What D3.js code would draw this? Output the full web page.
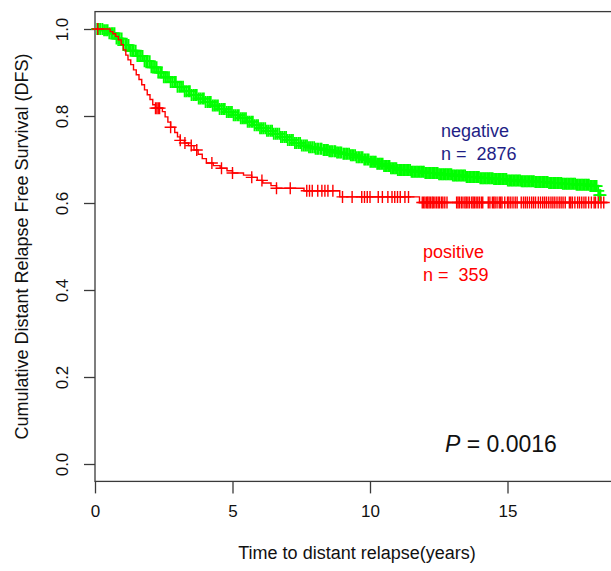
<!DOCTYPE html>
<html><head><meta charset="utf-8">
<script src="https://cdn.jsdelivr.net/npm/d3@7"></script>
<style>
body{margin:0;background:#fff}
svg{display:block}
text{font-family:"Liberation Sans",Arial,Helvetica,sans-serif}
</style>
</head><body>
<svg id="c" width="611" height="571"></svg>
<script>
// ---- data ----
const xTicks = [0, 5, 10, 15];
const yTicks = [0, 0.2, 0.4, 0.6, 0.8, 1.0];

const groupNames = ["negative", "positive"];
const groupN = [2876, 359];
const pValue = "0.0016";

// negative group (green) KM step curve
const negTime = [0,0.3,0.5,0.75,1.0,1.25,1.5,1.75,2.0,2.25,2.5,2.75,3.0,3.25,3.5,3.75,4.0,4.25,4.5,4.75,5.0,5.25,5.5,5.75,6.0,6.25,6.5,6.75,7.0,7.25,7.5,7.75,8.0,8.25,8.5,8.75,9.0,9.25,9.5,9.75,10.0,10.25,10.5,10.75,11.0,11.5,12.0,12.5,13.0,13.5,14.0,14.5,15.0,15.5,16.0,16.5,17.0,17.5,18.0,18.25,18.32,18.42];
const negSurv = [1.0,0.997,0.99,0.978,0.963,0.95,0.938,0.926,0.912,0.9,0.889,0.878,0.867,0.857,0.848,0.84,0.832,0.824,0.816,0.809,0.802,0.795,0.787,0.779,0.772,0.766,0.759,0.752,0.745,0.738,0.732,0.728,0.725,0.722,0.719,0.716,0.713,0.71,0.705,0.7,0.695,0.69,0.685,0.68,0.676,0.672,0.669,0.666,0.663,0.66,0.657,0.655,0.652,0.65,0.648,0.646,0.644,0.642,0.639,0.628,0.618,0.618];
const negCensor = [
0.08,0.14,0.2,0.27,0.33,0.4,0.46,0.52,0.59,0.65,0.71,0.78,0.84,0.9,0.97,1.03,1.1,1.16,1.22,1.29,
1.35,1.41,1.48,1.54,1.6,1.67,1.73,1.8,1.86,1.92,1.99,2.05,2.11,2.18,2.24,2.3,2.37,2.43,2.5,2.56,
2.62,2.69,2.75,2.81,2.88,2.94,3.0,3.07,3.13,3.2,3.26,3.32,3.39,3.45,3.51,3.58,3.64,3.7,3.77,3.83,
3.9,3.96,4.02,4.09,4.15,4.21,4.28,4.34,4.4,4.47,4.53,4.6,4.66,4.72,4.79,4.85,4.91,4.98,5.04,5.1,
5.17,5.23,5.3,5.36,5.42,5.49,5.55,5.61,5.68,5.74,5.8,5.87,5.93,6.0,6.06,6.12,6.19,6.25,6.31,6.38,
6.44,6.5,6.57,6.63,6.7,6.76,6.82,6.89,6.95,7.01,7.08,7.14,7.2,7.27,7.33,7.4,7.46,7.52,7.59,7.65,
7.71,7.78,7.84,7.9,7.97,
8.02,8.08,8.13,8.2,8.24,8.31,8.36,8.41,8.47,8.52,8.58,8.63,8.7,8.74,8.8,8.85,8.91,8.96,9.03,9.07,
9.13,9.18,9.24,9.3,9.35,9.4,9.46,9.51,9.57,9.62,9.68,9.73,9.79,9.84,9.9,9.95,10.01,10.06,10.11,10.16,
10.21,10.26,10.31,10.36,10.41,10.46,10.51,10.56,10.61,10.66,10.71,10.76,10.81,10.86,10.91,10.96,11.01,11.06,11.11,11.16,
11.21,11.26,11.31,11.36,11.41,11.46,11.51,11.56,11.61,11.66,11.71,11.76,11.81,11.86,11.91,11.96,12.01,12.06,12.11,12.16,
12.21,12.26,12.31,12.36,12.41,12.46,12.51,12.56,12.61,12.66,12.71,12.76,12.81,12.86,12.91,12.96,13.01,13.06,13.11,13.16,
13.21,13.26,13.31,13.36,13.41,13.46,13.51,13.56,13.61,13.66,13.71,13.76,13.81,13.86,13.91,13.96,14.01,14.06,14.11,14.16,
14.21,14.26,14.31,14.36,14.41,14.46,14.51,14.56,14.61,14.66,14.71,14.76,14.81,14.86,14.91,14.96,15.01,15.06,15.11,15.16,
15.21,15.26,15.31,15.36,15.41,15.46,15.51,15.56,15.61,15.66,15.71,15.76,15.81,15.86,15.91,15.96,16.01,16.06,16.11,16.16,
16.21,16.26,16.31,16.36,16.41,16.46,16.51,16.56,16.61,16.66,16.71,16.76,16.81,16.86,16.91,16.96,17.01,17.06,17.11,17.16,
17.21,17.26,17.31,17.36,17.41,17.46,17.51,17.56,17.61,17.66,17.71,17.76,17.81,17.86,17.91,17.96,18.01,18.06,18.11,18.16,
18.2,18.24,18.3,18.34,18.38];

// positive group (red) KM step curve
const posTime = [0,0.55,0.65,0.75,0.85,0.95,1.03,1.12,1.2,1.3,1.4,1.5,1.6,1.7,1.8,1.9,2.0,2.1,2.2,2.45,2.55,2.65,2.75,2.9,3.0,3.1,3.25,3.4,3.6,3.75,3.9,4.05,4.3,4.55,4.8,5.0,5.4,5.7,5.9,6.1,6.4,6.6,7.6,8.9,11.8,18.65];
const posSurv = [1.0,0.994,0.989,0.983,0.975,0.964,0.952,0.94,0.929,0.918,0.906,0.895,0.884,0.872,0.86,0.849,0.838,0.826,0.818,0.81,0.798,0.786,0.774,0.762,0.752,0.744,0.738,0.732,0.722,0.712,0.702,0.692,0.686,0.68,0.674,0.669,0.664,0.659,0.652,0.646,0.64,0.634,0.628,0.614,0.601,0.601];
const posCensor = [
0.1,2.2,2.25,2.3,2.35,2.75,3.1,3.27,3.5,3.7,4.25,4.6,5.0,5.7,6.07,6.6,7.1,7.7,7.8,7.9,
8.1,8.25,8.36,8.47,8.65,9.0,9.35,9.7,9.8,9.9,10.0,10.3,10.45,10.65,10.8,10.9,11.0,11.1,11.27,11.4,
11.9,11.95,12.0,12.06,12.1,12.15,12.2,12.26,12.3,12.36,12.42,12.48,12.53,12.6,12.65,12.72,12.8,
13.15,13.2,13.25,13.32,13.38,13.45,13.5,13.56,13.62,13.7,13.75,13.8,13.86,13.92,13.98,14.05,14.1,
14.3,14.36,14.45,14.5,14.55,14.62,14.7,14.75,14.8,14.9,15.0,15.05,15.12,15.2,15.28,15.35,
15.5,15.58,15.65,15.72,15.8,15.88,15.95,16.02,
16.12,16.2,16.28,16.35,16.42,16.5,16.58,16.65,16.72,16.8,16.88,16.95,17.02,17.1,
17.25,17.3,17.36,17.45,17.55,17.62,17.7,17.78,17.85,17.95,18.05,18.15,18.2,18.3,18.4,18.5];

// ---- drawing ----
const svg = d3.select("#c");
const x = d3.scaleLinear().domain([0, 19]).range([95, 617.5]);
const y = d3.scaleLinear().domain([-0.04, 1.04]).range([481.4, 11.6]);
const FONT = '"Liberation Sans",Arial,Helvetica,sans-serif';

// box
svg.append("rect")
  .attr("x", x(0)).attr("y", y(1.04))
  .attr("width", x(19) - x(0)).attr("height", y(-0.04) - y(1.04))
  .attr("fill", "none").attr("stroke", "#3a3a3a").attr("stroke-width", 1.3);

// x axis
const gx = svg.append("g").attr("transform", `translate(0,${y(-0.04)})`)
  .call(d3.axisBottom(x).tickValues(xTicks).tickSize(12).tickPadding(12).tickFormat(d3.format("d")));
gx.select(".domain").remove();
gx.selectAll("line").attr("stroke", "#3a3a3a").attr("stroke-width", 1.3);
gx.selectAll("text").attr("font-size", 17).attr("font-family", FONT).attr("fill", "#111");

// y axis
const gy = svg.append("g").attr("transform", `translate(${x(0)},0)`)
  .call(d3.axisLeft(y).tickValues(yTicks).tickSize(11).tickFormat(d3.format(".1f")));
gy.select(".domain").remove();
gy.selectAll("line").attr("stroke", "#3a3a3a").attr("stroke-width", 1.3);
gy.selectAll("text")
  .attr("font-size", 17).attr("font-family", FONT).attr("fill", "#111")
  .attr("x", 0).attr("y", -27).attr("dy", 0)
  .attr("text-anchor", "middle")
  .attr("transform", "rotate(-90)");

// axis titles
svg.append("text").attr("x", 357).attr("y", 559)
  .attr("text-anchor", "middle").attr("font-size", 18).attr("fill", "#111")
  .text("Time to distant relapse(years)");
svg.append("text").attr("transform", `translate(28,${(y(1.04)+y(-0.04))/2}) rotate(-90)`)
  .attr("text-anchor", "middle").attr("font-size", 18).attr("fill", "#111")
  .text("Cumulative Distant Relapse Free Survival (DFS)");

function survAt(times, survs, t) {
  const i = d3.bisectRight(times, t) - 1;
  return survs[Math.max(0, Math.min(i, survs.length - 1))];
}
const stepLine = d3.line().curve(d3.curveStepAfter).x(d => x(d[0])).y(d => y(d[1]));
const MS = 6;
function plusPath(t, times, survs) {
  const px = x(t), py = y(survAt(times, survs, t));
  return `M${px - MS},${py}H${px + MS}M${px},${py - MS}V${py + MS}`;
}

function drawGroup(times, survs, censor, color, lw, mw) {
  const g = svg.append("g");
  g.append("path").datum(d3.zip(times, survs))
    .attr("d", stepLine).attr("fill", "none").attr("stroke", color).attr("stroke-width", lw);
  g.selectAll("path.m").data(censor).join("path").attr("class", "m")
    .attr("d", t => plusPath(t, times, survs))
    .attr("fill", "none").attr("stroke", color).attr("stroke-width", mw);
}
drawGroup(negTime, negSurv, negCensor, "#00ff00", 1.4, 1.8);
drawGroup(posTime, posSurv, posCensor, "#ff0000", 1.4, 1.4);

// labels
const navy = "#1f1f86";
svg.append("text").attr("x", 441).attr("y", 137).attr("font-size", 18).attr("fill", navy).text(groupNames[0]);
svg.append("text").attr("x", 441).attr("y", 160).attr("font-size", 18).attr("fill", navy)
  .style("white-space", "pre").text("n =  " + groupN[0]);
svg.append("text").attr("x", 423).attr("y", 258).attr("font-size", 18).attr("fill", "#ff0000").text(groupNames[1]);
svg.append("text").attr("x", 423).attr("y", 280.5).attr("font-size", 18).attr("fill", "#ff0000")
  .style("white-space", "pre").text("n =  " + groupN[1]);

const pt = svg.append("text").attr("x", 445).attr("y", 452).attr("font-size", 23).attr("fill", "#111")
  .style("white-space", "pre");
pt.append("tspan").attr("font-style", "italic").text("P");
pt.append("tspan").text(" = " + pValue);
</script>
</body></html>
